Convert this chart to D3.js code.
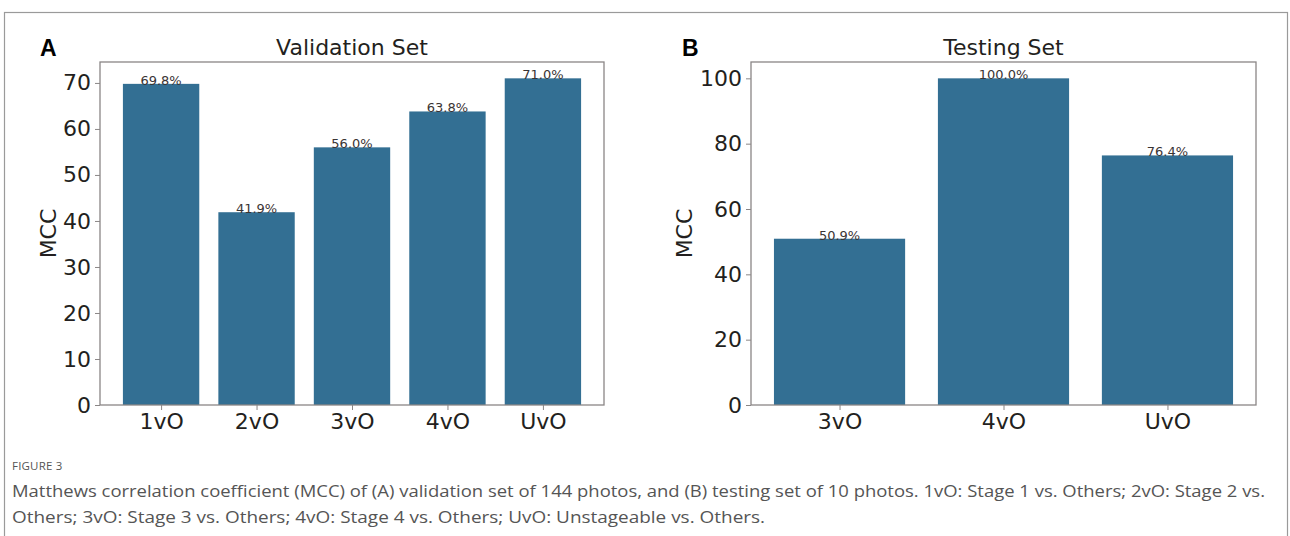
<!DOCTYPE html>
<html>
<head>
<meta charset="utf-8">
<script src="https://cdn.jsdelivr.net/npm/d3@7"></script>
<style>
html,body{margin:0;padding:0;background:#fff;}
svg{display:block;}
</style>
</head>
<body>
<svg id="c" width="1290" height="536"></svg>
<script>
// Data
const valCategories = ["1vO","2vO","3vO","4vO","UvO"];
const valValues = [69.8, 41.9, 56.0, 63.8, 71.0];
const valTicks = [0,10,20,30,40,50,60,70];
const testCategories = ["3vO","4vO","UvO"];
const testValues = [50.9, 100.0, 76.4];
const testTicks = [0,20,40,60,80,100];
const captionLines = [
  "Matthews correlation coefficient (MCC) of (A) validation set of 144 photos, and (B) testing set of 10 photos. 1vO: Stage 1 vs. Others; 2vO: Stage 2 vs.",
  "Others; 3vO: Stage 3 vs. Others; 4vO: Stage 4 vs. Others; UvO: Unstageable vs. Others."
];
const captionWidths = [1253, 753];

const svg = d3.select("#c");
const barColor = "#336f93";
const frameColor = "#8a8686";
const mplFont = "DejaVu Sans, sans-serif";

// outer figure border
svg.append("rect").attr("x",4.5).attr("y",12.5).attr("width",1283).attr("height",540)
  .attr("fill","none").attr("stroke","#9a9a9a").attr("stroke-width",1.2);

function panel(opts){
  const {cats, vals, ticks, left, right, top, bottom, title, letter, letterX, ylabelX} = opts;
  const n = cats.length;
  const ymax = d3.max(vals)*1.05;
  const y = d3.scaleLinear().domain([0, ymax]).range([bottom, top]);
  const lo = -0.4 - 0.05*(n-1+0.8), hi = n-1+0.4 + 0.05*(n-1+0.8);
  const x = d3.scaleLinear().domain([lo, hi]).range([left, right]);
  const g = svg.append("g");

  // bars
  g.selectAll("rect.bar").data(vals).enter().append("rect")
    .attr("class","bar")
    .attr("x",(d,i)=>x(i-0.4)).attr("width",(d,i)=>x(i+0.4)-x(i-0.4))
    .attr("y",d=>y(d)).attr("height",d=>y(0)-y(d))
    .attr("fill",barColor);

  // value labels
  g.selectAll("text.val").data(vals).enter().append("text")
    .attr("x",(d,i)=>x(i)).attr("y",d=>y(d)+1)
    .attr("text-anchor","middle").attr("font-family",mplFont).attr("font-size",13)
    .attr("fill","#3a3434")
    .text(d=>d.toFixed(1)+"%");

  // frame
  g.append("rect").attr("x",left).attr("y",top).attr("width",right-left).attr("height",bottom-top)
    .attr("fill","none").attr("stroke",frameColor).attr("stroke-width",1.3);

  // y axis
  const ya = d3.axisLeft(y).tickValues(ticks).tickSize(5).tickPadding(4).tickFormat(d3.format("d"));
  const yg = g.append("g").attr("transform",`translate(${left},0)`).call(ya);
  yg.select(".domain").remove();
  yg.selectAll(".tick line").attr("stroke",frameColor);
  yg.selectAll(".tick text").attr("font-family",mplFont).attr("font-size",22).attr("fill","#231f20");

  // x axis
  const xa = d3.axisBottom(x).tickValues(d3.range(n)).tickSize(5).tickPadding(3).tickFormat(i=>cats[i]);
  const xg = g.append("g").attr("transform",`translate(0,${bottom})`).call(xa);
  xg.select(".domain").remove();
  xg.selectAll(".tick line").attr("stroke",frameColor);
  xg.selectAll(".tick text").attr("font-family",mplFont).attr("font-size",22).attr("fill","#231f20");

  // title
  g.append("text").attr("x",(left+right)/2).attr("y",top-7).attr("text-anchor","middle")
    .attr("font-family",mplFont).attr("font-size",22).attr("fill","#231f20").text(title);
  // ylabel
  g.append("text").attr("transform",`translate(${ylabelX},${(top+bottom)/2}) rotate(-90)`)
    .attr("text-anchor","middle").attr("font-family",mplFont).attr("font-size",22)
    .attr("fill","#231f20").text("MCC");
  // panel letter
  g.append("text").attr("x",letterX).attr("y",56).attr("font-family","Liberation Sans, Arial, sans-serif")
    .attr("font-weight","bold").attr("font-size",23).attr("fill","#000").text(letter);
}

panel({cats:valCategories, vals:valValues, ticks:valTicks, left:100, right:604, top:62, bottom:405,
  title:"Validation Set", letter:"A", letterX:40, ylabelX:56});
panel({cats:testCategories, vals:testValues, ticks:testTicks, left:751, right:1256, top:62, bottom:405,
  title:"Testing Set", letter:"B", letterX:682, ylabelX:692});

// caption
svg.append("text").attr("x",12).attr("y",470).attr("font-family","Open Sans, sans-serif")
  .attr("font-size",11.5).attr("fill","#555").attr("letter-spacing",0.2).text("FIGURE 3");
captionLines.forEach((t,i)=>{
  svg.append("text").attr("x",12).attr("y",497+i*26).attr("font-family","Open Sans, sans-serif")
    .attr("font-size",16.5).attr("fill","#555")
    .attr("textLength",captionWidths[i]).attr("lengthAdjust","spacingAndGlyphs").text(t);
});
</script>
</body>
</html>
